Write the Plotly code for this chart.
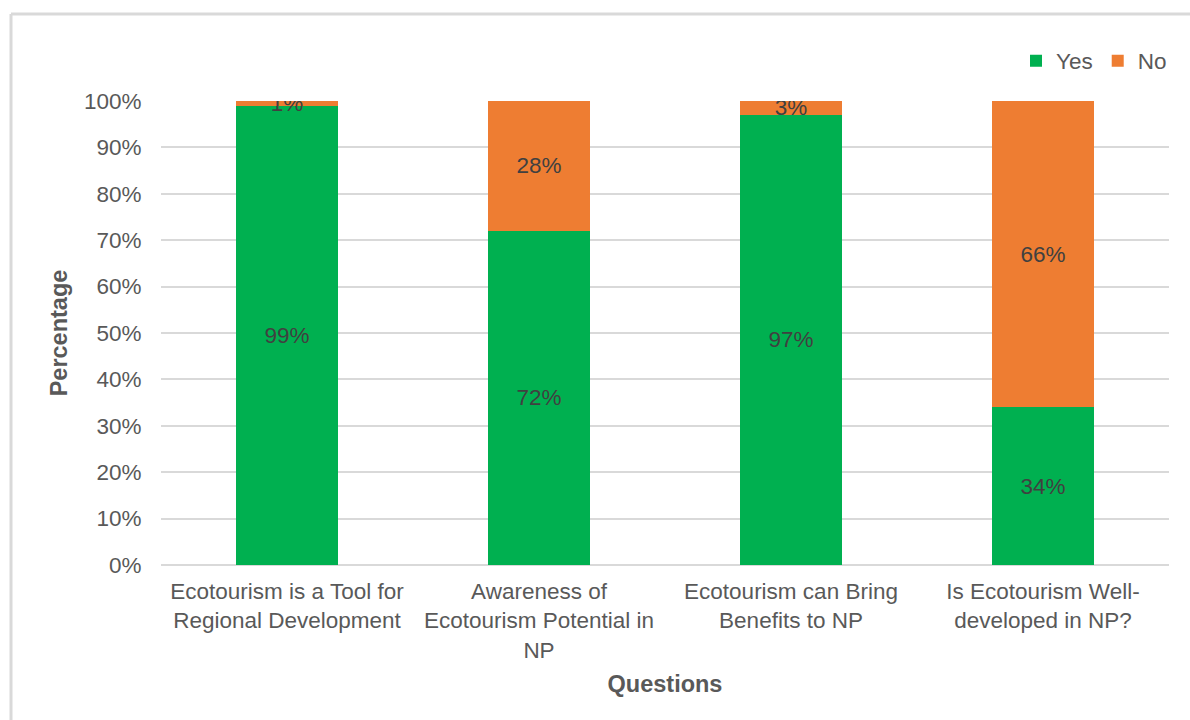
import plotly.graph_objects as go

categories = [
    "Ecotourism is a Tool for<br>Regional Development",
    "Awareness of<br>Ecotourism Potential in<br>NP",
    "Ecotourism can Bring<br>Benefits to NP",
    "Is Ecotourism Well-<br>developed in NP?",
]
yes_values = [99, 72, 97, 34]
no_values = [1, 28, 3, 66]
y_ticks = [0, 10, 20, 30, 40, 50, 60, 70, 80, 90, 100]
y_tick_labels = [f"{v}%" for v in y_ticks]

FONT = "Liberation Sans, Arial, sans-serif"
W, H = 1190, 720
L, R, T, B = 161, 21, 101, 155
pw, ph = W - L - R, H - T - B
FS = 22.5

fig = go.Figure()
fig.add_trace(go.Bar(
    name="Yes", x=categories, y=yes_values,
    marker=dict(color="#00B050", line=dict(width=0)),
    text=[f"{v}%" for v in yes_values], textposition="inside",
    insidetextanchor="middle", constraintext="none",
    textfont=dict(color="#404040", size=FS, family=FONT),
    hoverinfo="skip",
))
fig.add_trace(go.Bar(
    name="No", x=categories, y=no_values,
    marker=dict(color="#EE7D32", line=dict(width=0)),
    text=[f"{v}%" for v in no_values], textposition="inside",
    insidetextanchor="middle", constraintext="none",
    textfont=dict(color="#404040", size=FS, family=FONT),
    hoverinfo="skip",
))

def px_x(p):
    return (p - L) / pw

def px_y(p):
    return (H - B - p) / ph

fig.update_layout(
    width=W, height=H,
    margin=dict(l=L, r=R, t=T, b=B, autoexpand=False),
    barmode="stack",
    bargap=0.595,
    plot_bgcolor="white", paper_bgcolor="white",
    font=dict(family=FONT, size=FS, color="#595959"),
    showlegend=True,
    legend=dict(
        orientation="h", x=px_x(1172), y=px_y(61),
        xanchor="right", yanchor="middle",
        font=dict(size=FS, color="#595959", family=FONT),
        traceorder="normal", itemsizing="constant", itemwidth=30,
        bgcolor="rgba(0,0,0,0)",
    ),
    xaxis=dict(
        title=dict(text="<b>Questions</b>", font=dict(size=23.5, color="#595959", family=FONT), standoff=14),
        tickfont=dict(size=FS, color="#595959", family=FONT),
        showgrid=False, showline=False, ticks="outside", ticklen=6, tickcolor="rgba(0,0,0,0)",
    ),
    yaxis=dict(
        title=dict(text="<b>Percentage</b>", font=dict(size=23.5, color="#595959", family=FONT), standoff=9),
        range=[0, 100], tickvals=y_ticks, ticktext=y_tick_labels,
        tickfont=dict(size=FS, color="#595959", family=FONT),
        showgrid=True, gridcolor="#D9D9D9", gridwidth=1.5,
        zeroline=True, zerolinecolor="#D9D9D9", zerolinewidth=1.5,
        showline=False, ticks="outside", ticklen=14, tickcolor="rgba(0,0,0,0)",
        fixedrange=True,
    ),
    shapes=[
        dict(type="line", xref="paper", yref="paper",
             x0=px_x(11), x1=px_x(1300), y0=px_y(14), y1=px_y(14),
             line=dict(color="#D9D9D9", width=3)),
        dict(type="line", xref="paper", yref="paper",
             x0=px_x(11), x1=px_x(11), y0=px_y(14), y1=px_y(800),
             line=dict(color="#D9D9D9", width=3)),
    ],
)

fig.write_html("out.html")
